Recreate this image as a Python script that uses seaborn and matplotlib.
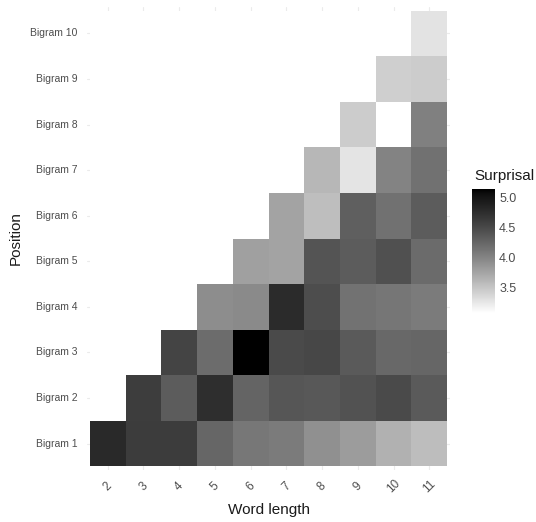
import numpy as np
import pandas as pd
import matplotlib
matplotlib.use("Agg")
import matplotlib.pyplot as plt
import seaborn as sns
from matplotlib.colors import ListedColormap

# ---------------- data ----------------
word_lengths = [2, 3, 4, 5, 6, 7, 8, 9, 10, 11]
# each bigram position only exists from word length = position + 1
bigram1 = [4.81, 4.63, 4.62, 4.26, 4.11, 4.08, 3.92, 3.82, 3.66, 3.57]
bigram2 = [4.61, 4.34, 4.76, 4.27, 4.39, 4.38, 4.43, 4.50, 4.36]
bigram3 = [4.55, 4.21, 5.15, 4.50, 4.52, 4.36, 4.24, 4.26]
bigram4 = [3.93, 3.96, 4.78, 4.47, 4.16, 4.12, 4.08]
bigram5 = [3.79, 3.76, 4.41, 4.34, 4.44, 4.22]
bigram6 = [3.76, 3.56, 4.31, 4.17, 4.34]
bigram7 = [3.61, 3.28, 4.01, 4.17]
bigram8 = [3.46, 3.08, 4.04]
bigram9 = [3.43, 3.46]
bigram10 = [3.29]

rows = [bigram1, bigram2, bigram3, bigram4, bigram5,
        bigram6, bigram7, bigram8, bigram9, bigram10]
row_names = [f"Bigram {i}" for i in range(1, 11)]

mat = np.full((10, 10), np.nan)
for i, r in enumerate(rows):
    mat[i, 10 - len(r):] = r
df = pd.DataFrame(mat, index=row_names, columns=word_lengths)
df = df.iloc[::-1]  # Bigram 10 on top

# ---------------- white -> black gradient, linear in lightness ----------------
L = np.linspace(100, 0, 256)
fy = (L + 16) / 116
Y = np.where(L > 8, fy ** 3, L / 903.3)
g = np.where(Y > 0.0031308, 1.055 * Y ** (1 / 2.4) - 0.055, 12.92 * Y)
cmap = ListedColormap(np.column_stack([g, g, g]))
cmap.set_bad("white")

# ---------------- plot ----------------
sns.set_style("white")
plt.rcParams["font.family"] = ["Liberation Sans", "DejaVu Sans"]

fig = plt.figure(figsize=(5.36, 5.22), dpi=100)
ax = fig.add_axes([87 / 536, 1 - 470 / 522, 363 / 536, 463 / 522])
cax = fig.add_axes([472 / 536, 1 - 313 / 522, 23 / 536, 124 / 522])

sns.heatmap(df, cmap=cmap, ax=ax, cbar_ax=cax, linewidths=0,
            cbar_kws={"ticks": [3.5, 4.0, 4.5, 5.0]})

ax.set_xlim(-0.08, 10.08)
ax.set_ylim(10.08, -0.08)
ax.set_axisbelow(True)
ax.grid(True, color="#ebebeb", linewidth=0.8)
for s in ax.spines.values():
    s.set_visible(False)

ax.tick_params(axis="both", length=0, colors="#4d4d4d")
ax.tick_params(axis="y", labelsize=7.5, pad=7)
ax.tick_params(axis="x", labelsize=8.5, pad=12)
ax.set_yticklabels(df.index, rotation=0)
for lab in ax.get_xticklabels():
    lab.set_rotation(45)
    lab.set_ha("center")
    lab.set_va("center")

ax.set_xlabel("Word length", fontsize=11, color="#1a1a1a", va="center")
ax.set_ylabel("Position", fontsize=11, color="#1a1a1a", va="center")
ax.xaxis.set_label_coords(0.5, -40 / 463)
ax.yaxis.set_label_coords(-71 / 363, 0.5)

cbar = ax.collections[0].colorbar
cbar.outline.set_visible(False)
cax.yaxis.set_ticks_position("both")
cax.tick_params(direction="in", color="white", length=4.5, width=0.8,
                labelsize=9, labelcolor="#4d4d4d", labelleft=False,
                labelright=True, pad=3)
fig.text(474 / 536, 1 - 176 / 522, "Surprisal", fontsize=11,
         color="#1a1a1a", va="center", ha="left")

fig.savefig("out.png", dpi=100)
